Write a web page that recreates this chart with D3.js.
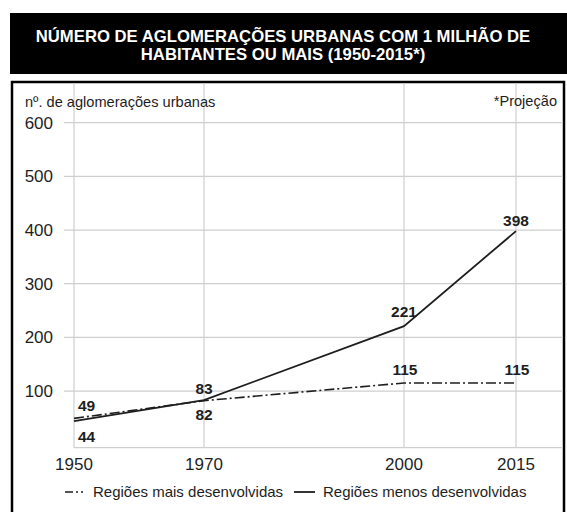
<!DOCTYPE html>
<html><head><meta charset="utf-8">
<script src="https://cdn.jsdelivr.net/npm/d3@7"></script>
<style>html,body{margin:0;padding:0;background:#fff;}svg{display:block;font-family:"Liberation Sans",Arial,sans-serif;}</style>
</head><body>
<svg id="c" width="567" height="512"></svg>
<script>
const years = [1950, 1970, 2000, 2015];
const maisDesenvolvidas = [49, 82, 115, 115];
const menosDesenvolvidas = [44, 83, 221, 398];
const yTicks = [100, 200, 300, 400, 500, 600];
const titleLines = ["NÚMERO DE AGLOMERAÇÕES URBANAS COM 1 MILHÃO DE", "HABITANTES OU MAIS (1950-2015*)"];
const yAxisTitle = "nº. de aglomerações urbanas";
const noteText = "*Projeção";
const legendLabels = ["Regiões mais desenvolvidas", "Regiões menos desenvolvidas"];

const svg = d3.select("#c");
const x = d3.scaleLinear().domain(years).range([74, 204, 404, 516]);
const y = d3.scaleLinear().domain([0, 600]).range([444.7, 122.7]);
const ink = "#1e1e1e";

// title box
svg.append("rect").attr("x", 10).attr("y", 13).attr("width", 557).attr("height", 61).attr("fill", "#000");
svg.selectAll("text.title").data(titleLines).join("text").attr("class", "title")
  .attr("x", 283).attr("y", (d, i) => 42 + i * 17.5).attr("text-anchor", "middle")
  .attr("fill", "#fff").attr("font-weight", "bold").attr("font-size", 16.7).text(d => d);

// frame
svg.append("path").attr("d", "M12,512 V82 H564 V512").attr("fill", "none").attr("stroke", "#000").attr("stroke-width", 2.5);

const bottomY = y(0) + 3;
// grid
const grid = svg.append("g").attr("stroke", "#cfcfcf").attr("stroke-width", 1.2);
grid.selectAll("line.h").data(yTicks).join("line").attr("class", "h")
  .attr("x1", 64).attr("x2", 563).attr("y1", d => y(d)).attr("y2", d => y(d));
grid.selectAll("line.v").data(years).join("line").attr("class", "v")
  .attr("x1", d => x(d)).attr("x2", d => x(d)).attr("y1", 83).attr("y2", bottomY);
grid.append("line").attr("x1", x(1950)).attr("x2", 563).attr("y1", bottomY).attr("y2", bottomY);

// y tick labels
svg.selectAll("text.yt").data(yTicks).join("text").attr("class", "yt")
  .attr("x", 53).attr("y", d => y(d) + 6).attr("text-anchor", "end")
  .attr("font-size", 17).attr("fill", ink).text(d => d);
// x tick labels
svg.selectAll("text.xt").data(years).join("text").attr("class", "xt")
  .attr("x", d => x(d)).attr("y", 470).attr("text-anchor", "middle")
  .attr("font-size", 17).attr("fill", ink).text(d => d);

svg.append("text").attr("x", 25).attr("y", 107).attr("font-size", 14.6).attr("fill", ink).text(yAxisTitle);
svg.append("text").attr("x", 557).attr("y", 106).attr("text-anchor", "end").attr("font-size", 14.6).attr("fill", ink).text(noteText);

// lines
const line = d3.line().x((d, i) => x(years[i])).y(d => y(d));
svg.append("path").datum(maisDesenvolvidas).attr("d", line).attr("fill", "none")
  .attr("stroke", ink).attr("stroke-width", 1.6).attr("stroke-dasharray", "10,3,2,3");
svg.append("path").datum(menosDesenvolvidas).attr("d", line).attr("fill", "none")
  .attr("stroke", ink).attr("stroke-width", 1.8);

// value labels
const lbl = (txt, xx, yy, anchor) => svg.append("text").attr("x", xx).attr("y", yy)
  .attr("text-anchor", anchor || "middle").attr("font-size", 15.5).attr("font-weight", "bold").attr("fill", ink).text(txt);
lbl(maisDesenvolvidas[0], x(years[0]) + 4, y(maisDesenvolvidas[0]) - 7, "start");
lbl(menosDesenvolvidas[0], x(years[0]) + 4, y(menosDesenvolvidas[0]) + 21, "start");
lbl(menosDesenvolvidas[1], x(years[1]), y(menosDesenvolvidas[1]) - 6);
lbl(maisDesenvolvidas[1], x(years[1]), y(maisDesenvolvidas[1]) + 19);
lbl(menosDesenvolvidas[2], x(years[2]), y(menosDesenvolvidas[2]) - 9);
lbl(maisDesenvolvidas[2], x(years[2]) + 1, y(maisDesenvolvidas[2]) - 8);
lbl(maisDesenvolvidas[3], x(years[3]) + 1, y(maisDesenvolvidas[3]) - 8);
lbl(menosDesenvolvidas[3], x(years[3]), y(menosDesenvolvidas[3]) - 5);

// legend
const lg = svg.append("g");
lg.append("line").attr("x1", 65).attr("x2", 88).attr("y1", 492).attr("y2", 492)
  .attr("stroke", ink).attr("stroke-width", 1.6).attr("stroke-dasharray", "8,3,2,3,2,6");
lg.append("text").attr("x", 93).attr("y", 497).attr("font-size", 15).attr("fill", ink).text(legendLabels[0]);
lg.append("line").attr("x1", 294).attr("x2", 315).attr("y1", 492).attr("y2", 492)
  .attr("stroke", ink).attr("stroke-width", 1.8);
lg.append("text").attr("x", 323).attr("y", 497).attr("font-size", 15).attr("fill", ink).text(legendLabels[1]);
</script>
</body></html>
